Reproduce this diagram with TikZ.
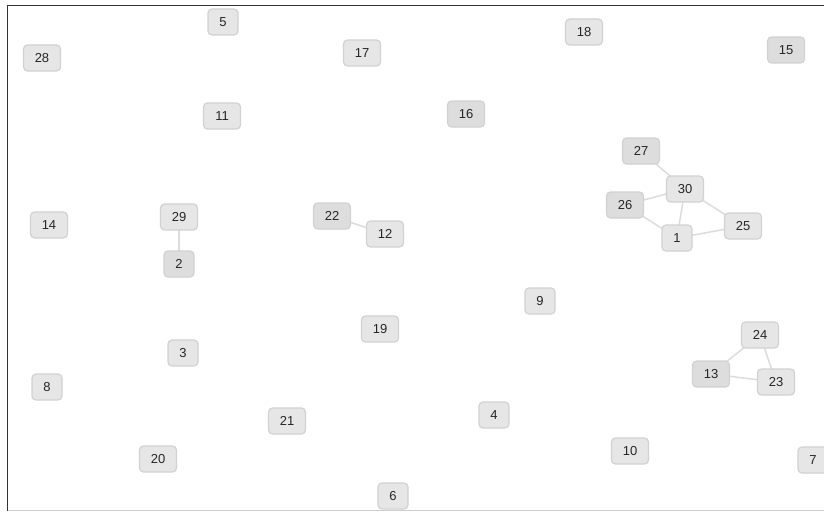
\documentclass[tikz,border=0pt]{standalone}
\usepackage{fontspec}
\setmainfont{Liberation Sans}
\definecolor{nfill}{HTML}{E6E6E6}
\definecolor{nfilld}{HTML}{DDDDDD}
\definecolor{ndraw}{HTML}{D2D2D2}
\definecolor{edgec}{HTML}{DCDCDC}
\definecolor{framec}{HTML}{333333}
\begin{document}
\begin{tikzpicture}[x=1pt,y=-1pt,
  nd/.style={draw=ndraw,line width=1.2pt,fill=nfill,rounded corners=4pt,
    minimum width=37pt,minimum height=26pt,inner sep=0pt,
    font=\fontsize{13}{15}\selectfont,text=black!85},
  sd/.style={nd,minimum width=30pt},
  dk/.style={fill=nfilld},
  ed/.style={draw=edgec,line width=1.5pt}]
\useasboundingbox (0,0) rectangle (824,511);
\fill[white] (0,0) rectangle (824,511);
\draw[framec,line width=1pt] (7.5,511) -- (7.5,5.5) -- (824,5.5);
\draw[gray!40,line width=0.8pt] (7.5,510) -- (824,510);
% edges first (behind nodes)
\path (641,151) coordinate (c27) (685,189) coordinate (c30) (625,205) coordinate (c26)
      (743,226) coordinate (c25) (677,238) coordinate (c1)
      (760,335) coordinate (c24) (711,374) coordinate (c13) (776,382) coordinate (c23)
      (179,217) coordinate (c29) (179,264) coordinate (c2)
      (332,216) coordinate (c22) (385,234) coordinate (c12);
\draw[ed] (c27) -- (c30);
\draw[ed] (c30) -- (c26);
\draw[ed] (c30) -- (c1);
\draw[ed] (c30) -- (c25);
\draw[ed] (c26) -- (c1);
\draw[ed] (c1) -- (c25);
\draw[ed] (c24) -- (c13);
\draw[ed] (c24) -- (c23);
\draw[ed] (c13) -- (c23);
\draw[ed] (c29) -- (c2);
\draw[ed] (c22) -- (c12);
% nodes
\node[sd] (n5) at (223,22) {5};
\node[nd] (n28) at (42,58) {28};
\node[nd] (n17) at (362,53) {17};
\node[nd] (n18) at (584,32) {18};
\node[nd,dk] (n15) at (786,50) {15};
\node[nd] (n11) at (222,116) {11};
\node[nd,dk] (n16) at (466,114) {16};
\node[nd,dk] (n27) at (641,151) {27};
\node[nd] (n30) at (685,189) {30};
\node[nd,dk] (n26) at (625,205) {26};
\node[nd] (n25) at (743,226) {25};
\node[sd] (n1) at (677,238) {1};
\node[nd] (n14) at (49,225) {14};
\node[nd] (n29) at (179,217) {29};
\node[nd,dk] (n22) at (332,216) {22};
\node[nd] (n12) at (385,234) {12};
\node[sd,dk] (n2) at (179,264) {2};
\node[sd] (n9) at (540,301) {9};
\node[nd] (n19) at (380,329) {19};
\node[nd] (n24) at (760,335) {24};
\node[sd] (n3) at (183,353) {3};
\node[nd,dk] (n13) at (711,374) {13};
\node[nd] (n23) at (776,382) {23};
\node[sd] (n8) at (47,387) {8};
\node[sd] (n4) at (494,415) {4};
\node[nd] (n21) at (287,421) {21};
\node[nd] (n10) at (630,451) {10};
\node[nd] (n20) at (158,459) {20};
\node[sd] (n7) at (813,460) {7};
\node[sd] (n6) at (393,496) {6};
\end{tikzpicture}
\end{document}
